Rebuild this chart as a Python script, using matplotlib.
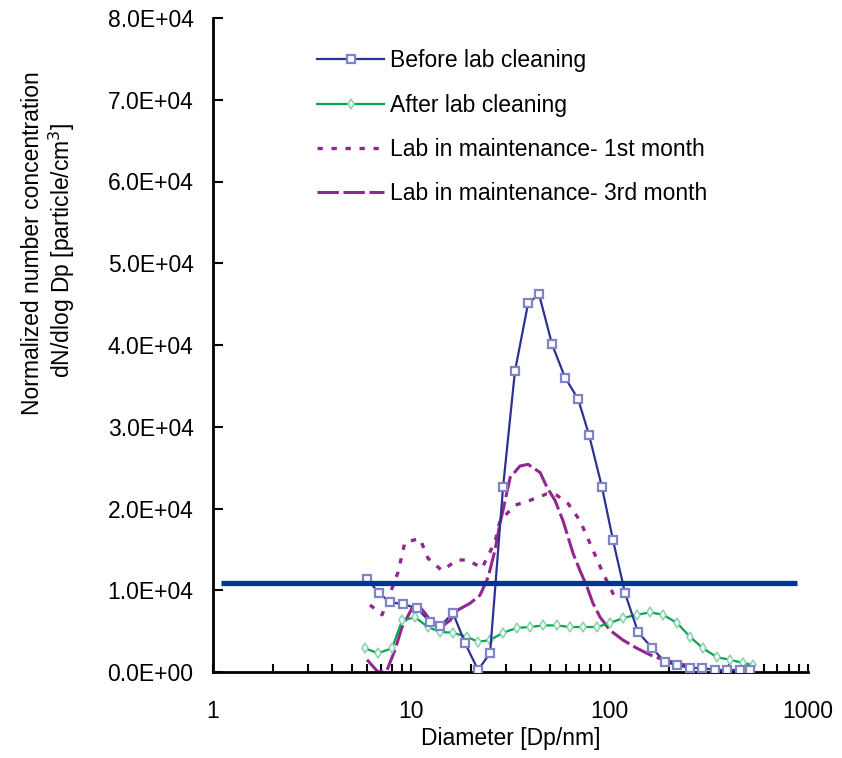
import matplotlib
matplotlib.use("Agg")
import matplotlib.pyplot as plt
from matplotlib import font_manager as fm
import numpy as np

# ---------------- data ----------------
before_x = [5.98, 6.88, 7.81, 9.08, 10.69, 12.43, 13.96, 16.23, 18.66, 21.70, 24.95,
            29.0, 33.3, 38.8, 44.05, 51.2, 59.6, 69.3, 78.7, 91.5, 104, 119.6,
            139, 163.7, 190, 219, 254, 292, 340, 391, 455, 510]
before_y = [11400, 9630, 8540, 8290, 7800, 6100, 5610, 7200, 3540, 240, 2320,
            22600, 36800, 45100, 46200, 40100, 36000, 33400, 29000, 22600, 16100, 9630,
            4880, 2930, 1220, 850, 490, 490, 240, 240, 240, 240]

after_x = [5.84, 6.79, 7.99, 8.98, 10.44, 12.14, 13.96, 16.23, 19.1, 21.7, 24.9,
           29.0, 34.1, 39.7, 46.1, 54.3, 63.1, 73.4, 86.3, 100.5, 116.8, 137.4,
           159.8, 185.8, 218.6, 254.4, 295.7, 348, 404.9, 470.7, 528]
after_y = [2900, 2300, 2900, 6300, 6700, 5500, 4900, 4800, 4300, 3700, 3900,
           4800, 5400, 5500, 5700, 5700, 5500, 5500, 5500, 6000, 6600, 7000,
           7300, 7000, 6000, 4300, 2900, 1800, 1500, 1100, 850]

m1_x = [6.19, 7.12, 8.57, 9.29, 11.06, 12.14, 14.28, 17.0, 19.3, 22.7, 26.4,
        28.0, 33.3, 39.7, 48.3, 54.3, 61.7, 70.9, 79.7, 92.6, 106.4]
m1_y = [8200, 7000, 12200, 15900, 16300, 13900, 12400, 13700, 13700, 12700, 15900,
        18500, 20400, 21000, 21800, 21600, 20600, 18500, 15700, 12100, 9100]

m3_x = [5.98, 6.79, 7.54, 8.27, 8.98, 10.08, 10.81, 11.73, 12.71, 13.96, 15.67,
        17.2, 19.77, 22.2, 24.4, 26.4, 28.0, 29.0, 31.5, 35.3, 38.8, 44.6,
        48.3, 53.0, 58.2, 65.4, 70.9, 76.9, 82.4, 89.5, 100.5, 116.8, 137.4,
        159.8, 185.8, 218.6, 263.5]
m3_y = [1500, 0, 240, 2700, 5500, 7800, 8200, 7200, 6000, 5400, 6300,
        7600, 8400, 9400, 11600, 14900, 18200, 19800, 23800, 25200, 25400, 24400,
        22600, 21000, 18500, 14500, 12400, 10400, 8400, 6700, 5100, 3900, 2900,
        2100, 1500, 1100, 600]

hline_x = [1.1, 880]
hline_y = [10850, 10850]

labels = ["Before lab cleaning", "After lab cleaning",
          "Lab in maintenance- 1st month", "Lab in maintenance- 3rd month"]
xticks = [1, 10, 100, 1000]
xticklabels = ["1", "10", "100", "1000"]
yticks = [0, 10000, 20000, 30000, 40000, 50000, 60000, 70000, 80000]
yticklabels = ["0.0E+00", "1.0E+04", "2.0E+04", "3.0E+04", "4.0E+04",
               "5.0E+04", "6.0E+04", "7.0E+04", "8.0E+04"]

# ---------------- style ----------------
names = {f.name for f in fm.fontManager.ttflist}
if "Liberation Sans Narrow" in names:
    fam = "Liberation Sans Narrow"
    fs = 19
else:
    fam = "Liberation Sans"
    fs = 16.5
plt.rcParams["font.family"] = [fam, "DejaVu Sans"]

c_blue = "#2E3192"
c_mark = "#7F84C4"
c_green = "#00A651"
c_gmark = "#8FD3B0"
c_purple = "#93278F"
c_hline = "#003399"

fig = plt.figure(figsize=(8.42, 7.58), dpi=100)
ax = fig.add_axes([213 / 842, 1 - 672 / 758, (808 - 213) / 842, (672 - 18) / 758])

ax.plot(before_x, before_y, color=c_blue, lw=1.6, marker="s", ms=6,
        mfc="white", mec=c_mark, mew=1.6, label=labels[0], zorder=4)
ax.plot(after_x, after_y, color=c_green, lw=1.6, marker="d", ms=5,
        mfc="white", mec=c_gmark, mew=1.2, label=labels[1], zorder=3)
ax.plot(m1_x, m1_y, color=c_purple, lw=2.4, linestyle=(0, (1.6, 2.6)),
        label=labels[2], zorder=2)
ax.plot(m3_x, m3_y, color=c_purple, lw=2.2, linestyle=(0, (7, 1.5)),
        label=labels[3], zorder=2)
ax.plot(hline_x, hline_y, color=c_hline, lw=3.8, solid_capstyle="butt", zorder=5)

ax.set_xscale("log")
ax.set_xlim(1, 1000)
ax.set_ylim(0, 80000)
ax.set_xticks(xticks)
ax.set_xticklabels(xticklabels)
ax.set_yticks(yticks)
ax.set_yticklabels(yticklabels)
ax.xaxis.set_minor_locator(matplotlib.ticker.LogLocator(base=10, subs=np.arange(2, 10)))
ax.xaxis.set_minor_formatter(matplotlib.ticker.NullFormatter())

for s in ["top", "right"]:
    ax.spines[s].set_visible(False)
for s in ["left", "bottom"]:
    ax.spines[s].set_linewidth(2.0)

ax.tick_params(axis="both", which="both", direction="in", width=1.5, labelsize=fs)
ax.tick_params(axis="y", which="major", length=7, pad=14)
ax.tick_params(axis="x", which="major", length=6, pad=20)
ax.tick_params(axis="x", which="minor", length=6)

ax.set_xlabel("Diameter [Dp/nm]", fontsize=fs, labelpad=3)

fig.text(33 / 842, 1 - 243 / 758, "Normalized number concentration",
         rotation=90, ha="center", va="center", fontsize=fs)
fig.text(62 / 842, 1 - 250 / 758, "dN/dlog Dp [particle/cm$^3$]",
         rotation=90, ha="center", va="center", fontsize=fs)

leg = ax.legend(loc="upper left", bbox_to_anchor=((299 - 213) / 595, 0.98),
                frameon=False, fontsize=fs, handlelength=2.9, handletextpad=0.25,
                labelspacing=0.93, numpoints=1, borderaxespad=0.4)

fig.savefig("out.png", dpi=100)
